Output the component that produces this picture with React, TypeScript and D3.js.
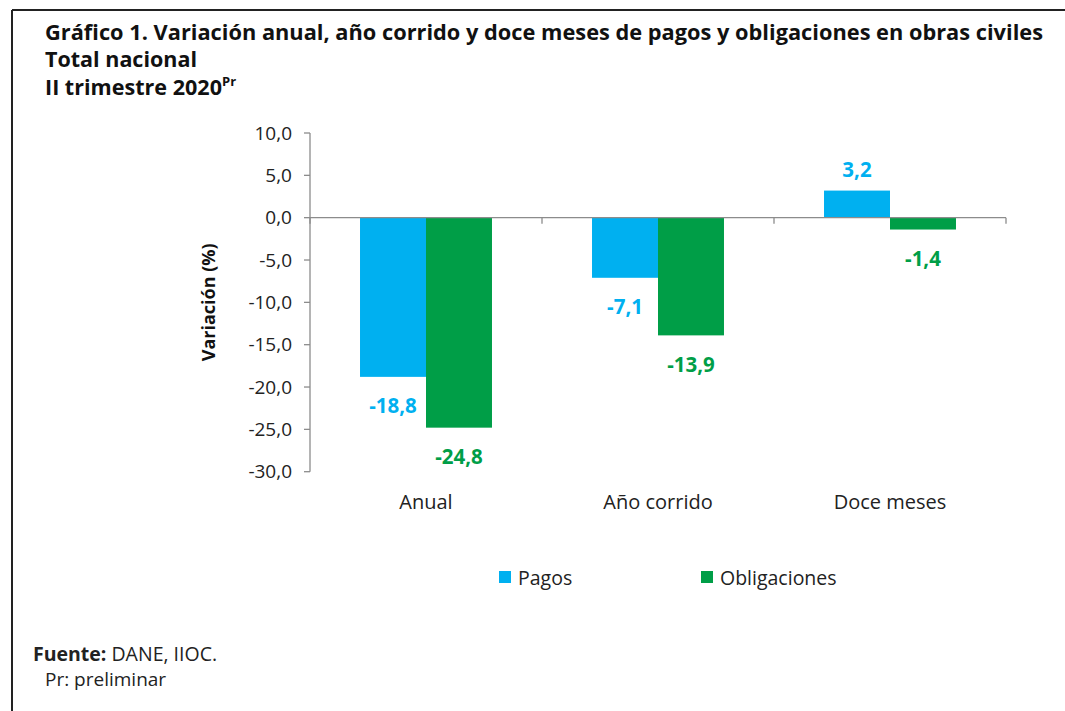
import React from "react";
import * as d3 from "d3";

const categories = ["Anual", "Año corrido", "Doce meses"];
const seriesNames = ["Pagos", "Obligaciones"];
const pagos = [-18.8, -7.1, 3.2];
const obligaciones = [-24.8, -13.9, -1.4];
const yTicks = [10, 5, 0, -5, -10, -15, -20, -25, -30];
const colors = ["#00B0F0", "#009E47"];

const FONT = "'Open Sans', Lato, sans-serif";
const fmt = (v: number) => v.toFixed(1).replace(".", ",");

export default function App() {
  const W = 1065, H = 711;
  const y = d3.scaleLinear().domain([-30, 10]).range([471.7, 133]);
  const x0 = d3.scaleBand<string>().domain(categories).range([310, 1006]).padding(0);
  const x1 = d3
    .scaleBand<string>()
    .domain(seriesNames)
    .range([0, x0.bandwidth()])
    .paddingInner(0)
    .paddingOuter(0.758);
  const values = [pagos, obligaciones];
  const y0 = y(0);
  const tickXs = [...categories.map((c) => x0(c) as number), 1006];

  return (
    <svg
      width={W}
      height={H}
      style={{ position: "absolute", left: 0, top: 0, background: "#fff" }}
      fontFamily={FONT}
    >
      <rect x={0} y={0} width={W} height={H} fill="#fff" />
      {/* frame */}
      <line x1={12} y1={10} x2={W} y2={10} stroke="#222" strokeWidth={2} />
      <line x1={12} y1={10} x2={12} y2={H} stroke="#222" strokeWidth={2} />

      {/* titles */}
      <text x={45} y={40} fontSize={21} fontWeight={700} fill="#111" textLength={998} lengthAdjust="spacingAndGlyphs">
        Gráfico 1. Variación anual, año corrido y doce meses de pagos y obligaciones en obras civiles
      </text>
      <text x={45} y={67} fontSize={21} fontWeight={700} fill="#111" textLength={152} lengthAdjust="spacingAndGlyphs">
        Total nacional
      </text>
      <text x={45} y={95} fontSize={21} fontWeight={700} fill="#111">
        <tspan textLength={177} lengthAdjust="spacingAndGlyphs">II trimestre 2020</tspan>
        <tspan fontSize={13} dy={-9}>Pr</tspan>
      </text>

      {/* y axis */}
      <line x1={310} y1={y(10)} x2={310} y2={y(-30)} stroke="#8c8c8c" strokeWidth={1.3} />
      {yTicks.map((t) => (
        <g key={t}>
          <line x1={304} x2={310} y1={y(t)} y2={y(t)} stroke="#8c8c8c" strokeWidth={1.3} />
          <text
            x={292}
            y={y(t)}
            dy="0.35em"
            textAnchor="end"
            fontSize={19}
            fill="#222"
          >
            {fmt(t)}
          </text>
        </g>
      ))}
      <text
        transform={`translate(215,${(y(10) + y(-30)) / 2}) rotate(-90)`}
        textAnchor="middle"
        fontSize={18}
        fontWeight={700}
        fill="#111"
      >
        Variación  (%)
      </text>

      {/* bars */}
      {categories.map((c, i) =>
        seriesNames.map((s, j) => {
          const v = values[j][i];
          const bx = (x0(c) as number) + (x1(s) as number);
          const top = Math.min(y(v), y0);
          const h = Math.abs(y(v) - y0);
          return (
            <g key={c + s}>
              <rect x={bx} y={top} width={x1.bandwidth()} height={h} fill={colors[j]} />
              <text
                x={bx + x1.bandwidth() / 2}
                y={v >= 0 ? y(v) - 21 : y(v) + 29}
                dy="0.35em"
                textAnchor="middle"
                fontSize={20.5}
                fontWeight={700}
                fill={colors[j]}
              >
                {fmt(v)}
              </text>
            </g>
          );
        })
      )}

      {/* category axis at zero */}
      <line x1={310} x2={1006} y1={y0} y2={y0} stroke="#8c8c8c" strokeWidth={1.3} />
      {tickXs.map((tx, i) => (
        <line key={i} x1={tx} x2={tx} y1={y0} y2={y0 + 6} stroke="#8c8c8c" strokeWidth={1.3} />
      ))}
      {categories.map((c) => (
        <text
          key={c}
          x={(x0(c) as number) + x0.bandwidth() / 2}
          y={509}
          textAnchor="middle"
          fontSize={20}
          fill="#222"
        >
          {c}
        </text>
      ))}

      {/* legend */}
      {seriesNames.map((s, j) => {
        const lx = j === 0 ? 499 : 701;
        return (
          <g key={s}>
            <rect x={lx} y={571} width={12} height={12} fill={colors[j]} />
            <text x={lx + 19} y={585} fontSize={19.5} fill="#222">
              {s}
            </text>
          </g>
        );
      })}

      {/* footer */}
      <text x={33} y={661} fontSize={19.5} fill="#222">
        <tspan fontWeight={700}>Fuente:</tspan> DANE, IIOC.
      </text>
      <text x={45} y={686} fontSize={19} fill="#222">
        Pr: preliminar
      </text>
    </svg>
  );
}
